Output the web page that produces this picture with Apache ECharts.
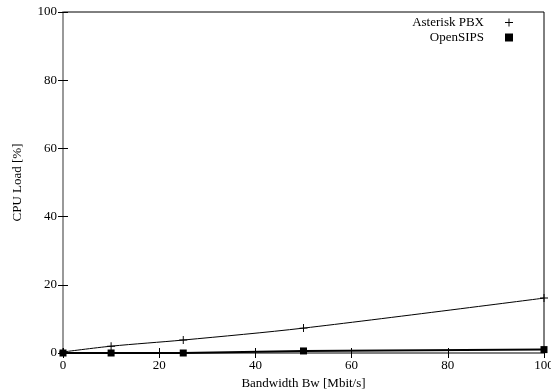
<!DOCTYPE html>
<html>
<head>
<meta charset="utf-8">
<script src="https://cdn.jsdelivr.net/npm/echarts@6/dist/echarts.min.js"></script>
<style>
  html, body { margin: 0; padding: 0; background: #fff; }
  #chart { width: 551px; height: 390px; }
</style>
</head>
<body>
<div id="chart"></div>
<script>
// bandwidth in Mbit/s
const bandwidth = [0, 10, 25, 50, 100];
const asteriskLoad = [0.3, 2.0, 3.8, 7.3, 16.1];
const opensipsLoad = [0.0, 0.0, 0.0, 0.6, 1.0];
const xTicks = [0, 20, 40, 60, 80, 100];
const yTicks = [0, 20, 40, 60, 80, 100];

const plusIcon = 'path://M4.4,0h1.2v10h-1.2z M0,4.4h10v1.2h-10z';
const font = 'Liberation Serif';

const chart = echarts.init(document.getElementById('chart'));

const baseAxis = {
  type: 'value',
  min: 0,
  max: 100,
  interval: 20,
  splitLine: { show: false },
  axisLine: { show: false },
  axisTick: { show: true, inside: true, length: 5, lineStyle: { color: '#000', width: 1 } },
};

const option = {
  animation: false,
  textStyle: { fontFamily: font },
  grid: {
    left: 63, right: 7, top: 12, bottom: 37,
    outerBoundsMode: 'none',
    containLabel: false,
    show: true, borderColor: '#000', borderWidth: 1,
  },
  legend: {
    orient: 'vertical',
    right: 33,
    top: 11,
    align: 'right',
    itemWidth: 8,
    itemHeight: 8,
    itemGap: 2,
    textStyle: { fontFamily: font, fontSize: 13, color: '#000', padding: [0, 16, 0, 0] },
    data: [
      { name: 'Asterisk PBX', icon: plusIcon },
      { name: 'OpenSIPS', icon: 'rect' },
    ],
  },
  xAxis: [
    Object.assign({}, baseAxis, {
      position: 'bottom',
      name: 'Bandwidth Bw [Mbit/s]',
      nameLocation: 'middle',
      nameGap: 23,
      nameTextStyle: { fontFamily: font, fontSize: 13, color: '#000' },
      axisLabel: {
        fontFamily: font, fontSize: 13, color: '#000', margin: 6,
        formatter: v => xTicks.includes(v) ? String(v) : '',
      },
    }),
    Object.assign({}, baseAxis, { position: 'top', axisLabel: { show: false } }),
  ],
  yAxis: [
    Object.assign({}, baseAxis, {
      position: 'left',
      axisLine: { show: true, lineStyle: { color: '#999', width: 2 } },
      name: 'CPU Load [%]',
      nameLocation: 'middle',
      nameGap: 39,
      nameTextStyle: { fontFamily: font, fontSize: 13, color: '#000' },
      axisLabel: {
        fontFamily: font, fontSize: 13, color: '#000', margin: 6,
        formatter: v => yTicks.includes(v) ? String(v) : '',
      },
    }),
    Object.assign({}, baseAxis, { position: 'right', axisLabel: { show: false } }),
  ],
  series: [
    {
      name: 'Asterisk PBX',
      type: 'line',
      smooth: 0.3,
      data: bandwidth.map((b, i) => [b, asteriskLoad[i]]),
      symbol: plusIcon,
      symbolSize: 8,
      itemStyle: { color: '#000' },
      lineStyle: { color: '#000', width: 1 },
      z: 3,
    },
    {
      name: 'OpenSIPS',
      type: 'line',
      data: bandwidth.map((b, i) => [b, opensipsLoad[i]]),
      symbol: 'rect',
      symbolSize: 7,
      itemStyle: { color: '#000' },
      lineStyle: { color: '#000', width: 2 },
      z: 4,
    },
  ],
};

chart.setOption(option);
</script>
</body>
</html>
